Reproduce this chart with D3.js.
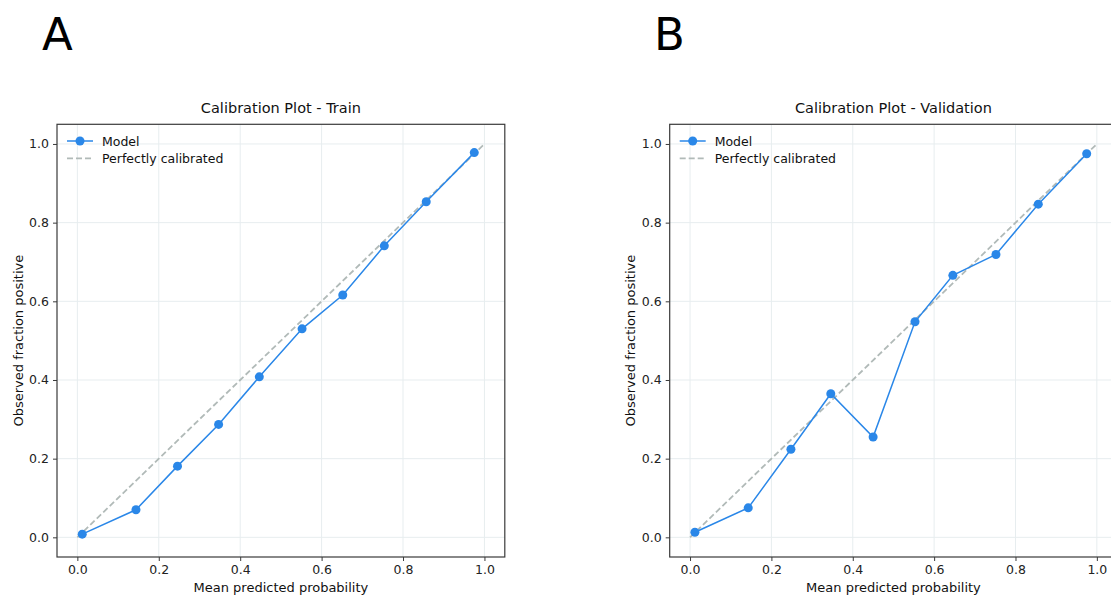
<!DOCTYPE html>
<html>
<head>
<meta charset="utf-8">
<script src="https://cdn.jsdelivr.net/npm/d3@7/dist/d3.min.js"></script>
<style>
  html, body { margin: 0; padding: 0; background: #fff; }
  svg { display: block; font-family: "DejaVu Sans", sans-serif; }
</style>
</head>
<body>
<svg id="chart" width="1111" height="596"></svg>
<script>
// ---- Data ----
const trainPredicted = [0.012, 0.144, 0.246, 0.347, 0.447, 0.552, 0.652, 0.754, 0.857, 0.975];
const trainObserved  = [0.008, 0.070, 0.181, 0.287, 0.408, 0.530, 0.616, 0.741, 0.853, 0.978];
const validPredicted = [0.012, 0.143, 0.248, 0.346, 0.450, 0.553, 0.646, 0.752, 0.856, 0.975];
const validObserved  = [0.013, 0.075, 0.224, 0.365, 0.255, 0.548, 0.666, 0.719, 0.847, 0.975];
const perfectLine = [0, 1];
const tickValues = [0, 0.2, 0.4, 0.6, 0.8, 1.0];
const panelLetters = ["A", "B"];
const panelTitles = ["Calibration Plot - Train", "Calibration Plot - Validation"];
const xLabel = "Mean predicted probability";
const yLabel = "Observed fraction positive";
const legendLabels = ["Model", "Perfectly calibrated"];

// ---- Drawing ----
const svg = d3.select("#chart");
const blue = "#2a87e8";
const dashColor = "#b1bab8";
const gridColor = "#e7edef";
const spineColor = "#3a3a3a";

const panels = [
  { x0: 57.0, x1: 504.8, pred: trainPredicted, obs: trainObserved, letterX: 42 },
  { x0: 669.7, x1: 1117.2, pred: validPredicted, obs: validObserved, letterX: 654 }
];
const yTop = 124.3, yBot = 557.0;

panels.forEach((p, i) => {
  const x = d3.scaleLinear().domain([-0.05, 1.05]).range([p.x0, p.x1]);
  const y = d3.scaleLinear().domain([-0.05, 1.05]).range([yBot, yTop]);
  const g = svg.append("g");

  // panel letter
  svg.append("text").attr("x", p.letterX).attr("y", 50)
    .attr("font-size", 45).attr("fill", "#000").text(panelLetters[i]);

  // clip
  const clipId = "clip" + i;
  svg.append("clipPath").attr("id", clipId).append("rect")
    .attr("x", p.x0).attr("y", yTop).attr("width", p.x1 - p.x0).attr("height", yBot - yTop);

  // grid
  const grid = g.append("g");
  grid.selectAll(".gx").data(tickValues).enter().append("line")
    .attr("x1", d => x(d)).attr("x2", d => x(d)).attr("y1", yTop).attr("y2", yBot)
    .attr("stroke", gridColor).attr("stroke-width", 1);
  grid.selectAll(".gy").data(tickValues).enter().append("line")
    .attr("y1", d => y(d)).attr("y2", d => y(d)).attr("x1", p.x0).attr("x2", p.x1)
    .attr("stroke", gridColor).attr("stroke-width", 1);

  const plot = g.append("g").attr("clip-path", `url(#${clipId})`);
  // perfectly calibrated
  plot.append("line")
    .attr("x1", x(perfectLine[0])).attr("y1", y(perfectLine[0]))
    .attr("x2", x(perfectLine[1])).attr("y2", y(perfectLine[1]))
    .attr("stroke", dashColor).attr("stroke-width", 1.8).attr("stroke-dasharray", "6,3");

  const pts = p.pred.map((v, k) => [v, p.obs[k]]);
  plot.append("path").datum(pts)
    .attr("d", d3.line().x(d => x(d[0])).y(d => y(d[1])))
    .attr("fill", "none").attr("stroke", blue).attr("stroke-width", 1.5);
  plot.selectAll(".pt").data(pts).enter().append("circle")
    .attr("cx", d => x(d[0])).attr("cy", d => y(d[1])).attr("r", 4.5)
    .attr("fill", blue);

  // axes
  const xAxis = d3.axisBottom(x).tickValues(tickValues).tickFormat(d3.format(".1f"))
    .tickSize(4).tickPadding(4);
  const yAxis = d3.axisLeft(y).tickValues(tickValues).tickFormat(d3.format(".1f"))
    .tickSize(4).tickPadding(4);
  const ax = g.append("g").attr("transform", `translate(0,${yBot})`).call(xAxis);
  const ay = g.append("g").attr("transform", `translate(${p.x0},0)`).call(yAxis);
  [ax, ay].forEach(a => {
    a.select(".domain").remove();
    a.selectAll(".tick line").attr("stroke", spineColor).attr("stroke-width", 1);
    a.selectAll(".tick text").attr("font-size", 12.5).attr("fill", "#222")
      .attr("font-family", "DejaVu Sans");
  });

  // spines
  g.append("rect").attr("x", p.x0).attr("y", yTop)
    .attr("width", p.x1 - p.x0).attr("height", yBot - yTop)
    .attr("fill", "none").attr("stroke", spineColor).attr("stroke-width", 1.2);

  const cx = (p.x0 + p.x1) / 2;
  // title
  g.append("text").attr("x", cx).attr("y", 113).attr("text-anchor", "middle")
    .attr("font-size", 14.5).attr("fill", "#111").text(panelTitles[i]);
  // x label
  g.append("text").attr("x", cx).attr("y", 592).attr("text-anchor", "middle")
    .attr("font-size", 13).attr("fill", "#111").text(xLabel);
  // y label
  g.append("text").attr("transform", `translate(${p.x0 - 34.5},${(yTop + yBot) / 2}) rotate(-90)`)
    .attr("text-anchor", "middle").attr("font-size", 13).attr("fill", "#111").text(yLabel);

  // legend
  const lg = g.append("g");
  const lx = p.x0 + 10, ly1 = 141, ly2 = 158.3;
  lg.append("line").attr("x1", lx).attr("x2", lx + 26).attr("y1", ly1).attr("y2", ly1)
    .attr("stroke", blue).attr("stroke-width", 1.5);
  lg.append("circle").attr("cx", lx + 13).attr("cy", ly1).attr("r", 4.5).attr("fill", blue);
  lg.append("line").attr("x1", lx).attr("x2", lx + 26).attr("y1", ly2).attr("y2", ly2)
    .attr("stroke", dashColor).attr("stroke-width", 1.8).attr("stroke-dasharray", "6,3");
  lg.append("text").attr("x", lx + 35).attr("y", ly1 + 4.5).attr("font-size", 12.5)
    .attr("fill", "#111").text(legendLabels[0]);
  lg.append("text").attr("x", lx + 35).attr("y", ly2 + 4.5).attr("font-size", 12.5)
    .attr("fill", "#111").text(legendLabels[1]);
});
</script>
</body>
</html>
